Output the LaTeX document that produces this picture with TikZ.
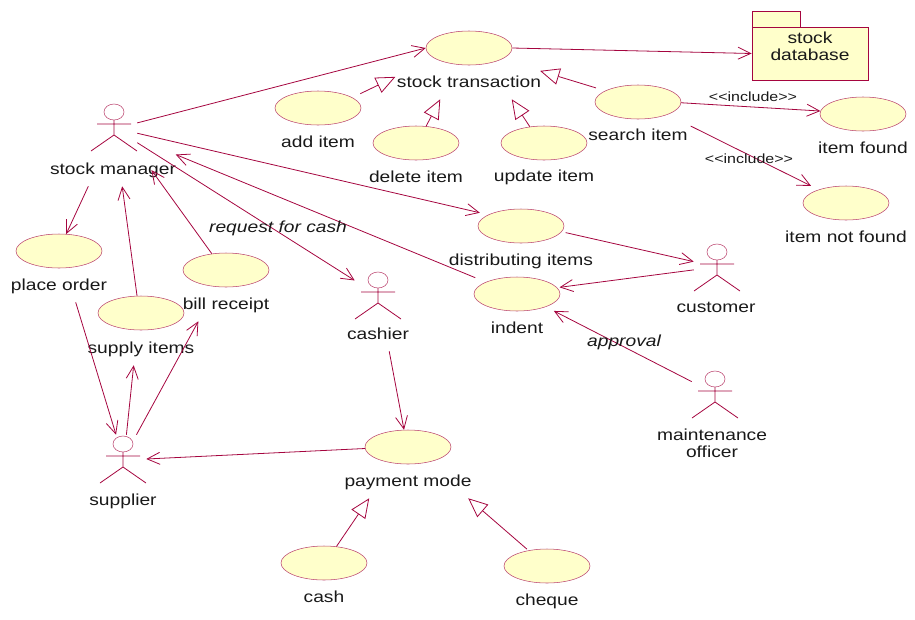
\documentclass[tikz,border=0pt]{standalone}
\usepackage{fontspec}
\setmainfont[FakeStretch=1.2]{Liberation Sans}
\usetikzlibrary{arrows.meta,shapes.geometric}
\definecolor{umlline}{HTML}{A5053F}
\definecolor{umlfill}{HTML}{FFFFCB}
\tikzset{
  usecase/.style={draw=umlline!75, fill=umlfill, ellipse, line width=0.4pt, inner sep=0pt, minimum width=64.5pt, minimum height=25.5pt},
  caption/.style={inner sep=1pt, minimum height=25.5pt, text height=9.75pt, text depth=2.25pt, font=\fontsize{12}{14}\selectfont, text=black!90},
  actorbox/.style={inner sep=0pt, minimum width=34.5pt, minimum height=36pt},
  link/.style={draw=umlline, line width=0.6pt, -{Straight Barb[length=9.5pt,width=9pt,line width=0.6pt]}},
  gen/.style={draw=umlline, line width=0.6pt, -{Triangle[open,length=14.5pt,width=12.5pt,fill=white,line width=0.6pt]}},
  stereo/.style={inner sep=0pt, font=\fontsize{10}{12}\selectfont, text=black!90},
  note/.style={inner sep=0pt, font=\fontsize{12}{14}\selectfont\itshape, text=black!90}
}
\newcommand{\actorman}[2]{
  \node[actorbox] (#1) at (#2) {};
  \begin{scope}[shift={(#1)}]
    \draw[draw=umlline!75, line width=0.4pt] (0,-15) ellipse (10 and 8);
    \draw[umlline, line width=0.6pt] (-17,-3) -- (17,-3) (0,-7) -- (0,8) (-23,24) -- (0,8) -- (23,24);
  \end{scope}
}
\begin{document}
\begin{tikzpicture}[x=0.75pt, y=-0.75pt]
  \useasboundingbox (0,0) rectangle (915,619);

  % package
  \node[draw=umlline, fill=umlfill, line width=0.6pt, inner sep=0pt, minimum width=36pt, minimum height=12pt] (dbtab) at (776,19) {};
  \node[draw=umlline, fill=umlfill, line width=0.6pt, inner sep=0pt, minimum width=87pt, minimum height=39.75pt] (db) at (810,53.5) {};
  \node[inner sep=0pt, align=center, font=\fontsize{12}{12.75}\selectfont, text=black!90] (dbtext) at (810,46.5) {stock\\database};

  % use cases
  \node[usecase] (txn) at (469,48) {};
  \node[caption] (txnlabel) at (469,82) {stock transaction};
  \node[usecase] (additem) at (318,108) {};
  \node[caption] (addlabel) at (318,142) {add item};
  \node[usecase] (delitem) at (416,143) {};
  \node[caption] (dellabel) at (416,177) {delete item};
  \node[usecase] (upditem) at (544,143) {};
  \node[caption] (updlabel) at (544,176) {update item};
  \node[usecase] (search) at (638,102) {};
  \node[caption] (searchlabel) at (638,135) {search item};
  \node[usecase] (found) at (863,114) {};
  \node[caption] (foundlabel) at (863,148) {item found};
  \node[usecase] (notfound) at (846,203) {};
  \node[caption] (notfoundlabel) at (846,237) {item not found};
  \node[usecase] (distrib) at (521,226) {};
  \node[caption] (distriblabel) at (521,260) {distributing items};
  \node[usecase] (indent) at (517,294) {};
  \node[caption] (indentlabel) at (517,328) {indent};
  \node[usecase] (order) at (59,251) {};
  \node[caption] (orderlabel) at (59,285) {place order};
  \node[usecase] (supply) at (141,313) {};
  \node[caption] (supplylabel) at (141,348) {supply items};
  \node[usecase] (bill) at (226,270) {};
  \node[caption] (billlabel) at (226,304) {bill receipt};
  \node[usecase] (payment) at (408,447) {};
  \node[caption] (paymentlabel) at (408,481) {payment mode};
  \node[usecase] (cash) at (324,563) {};
  \node[caption] (cashlabel) at (324,597) {cash};
  \node[usecase] (cheque) at (547,566) {};
  \node[caption] (chequelabel) at (547,600) {cheque};

  % actors
  \actorman{manager}{114,127}
  \node[caption] (managerlabel) at (113,169) {stock manager};
  \actorman{supplier}{123,459}
  \node[caption] (supplierlabel) at (123,500) {supplier};
  \actorman{cashier}{378,295}
  \node[caption] (cashierlabel) at (378,334) {cashier};
  \actorman{customer}{717,267}
  \node[caption] (customerlabel) at (716,307) {customer};
  \actorman{officer}{715,394}
  \node[inner sep=0pt, align=center, font=\fontsize{12}{12.75}\selectfont, text=black!90] (officerlabel) at (712,443) {maintenance\\officer};

  % connectors
  \draw[link] (manager.10) -- (txn.180);
  \draw[link] (txn.0) -- (db.west);
  \draw[gen, shorten <=6.6pt] (additem.17) -- (txnlabel.176);
  \draw[gen] (delitem.59) -- (txnlabel.211.3);
  \draw[gen] (upditem.131) -- (txnlabel.-22.5);
  \draw[gen, shorten <=7.3pt, shorten >=-2pt] (search.161.4) -- (txnlabel.8.5);
  \draw[link] (search.-1) -- (found.176);
  \node[stereo] (inclfound) at (753,97) {{<}{<}include{>}{>}};
  \draw[link, shorten <=19.3pt, shorten >=6.3pt] (search.-23.5) -- (notfound.154.4);
  \node[stereo] (inclnotfound) at (749,159) {{<}{<}include{>}{>}};
  \draw[link, shorten >=6.5pt] (manager.-15) -- (distrib.161.3);
  \draw[link, shorten <=3pt] (distrib.-8.7) -- (customer.167.7);
  \draw[link, shorten >=1.8pt] (customer.187.4) -- (indent.9.7);
  \draw[link, shorten <=8.5pt, shorten >=-1.5pt] (indent.159.8) -- (managerlabel.12);
  \draw[link] (manager.-34) -- (cashier.148.7);
  \node[note] (reqcash) at (278,228) {request for cash};
  \draw[link] (managerlabel.215.3) -- (order.67);
  \draw[link] (supply.103) -- (managerlabel.-62.1);
  \draw[link, shorten >=-15pt] (bill.131) -- (managerlabel.-19.9);
  \draw[link] (orderlabel.-46.7) -- (supplier.106.3);
  \draw[link] (supplier.82.9) -- (supplylabel.247.6);
  \draw[link] (supplier.61.6) -- (billlabel.212.2);
  \draw[link] (cashierlabel.-57.1) -- (payment.103);
  \draw[link] (payment.182.7) -- (supplier.east);
  \draw[link, shorten >=6.7pt] (officer.152.4) -- (indent.-24.9);
  \node[note] (approval) at (624,342) {approval};
  \draw[gen] (cash.53.6) -- (paymentlabel.204.7);
  \draw[gen, shorten <=1.5pt] (cheque.140.4) -- (paymentlabel.-16.1);
\end{tikzpicture}
\end{document}
